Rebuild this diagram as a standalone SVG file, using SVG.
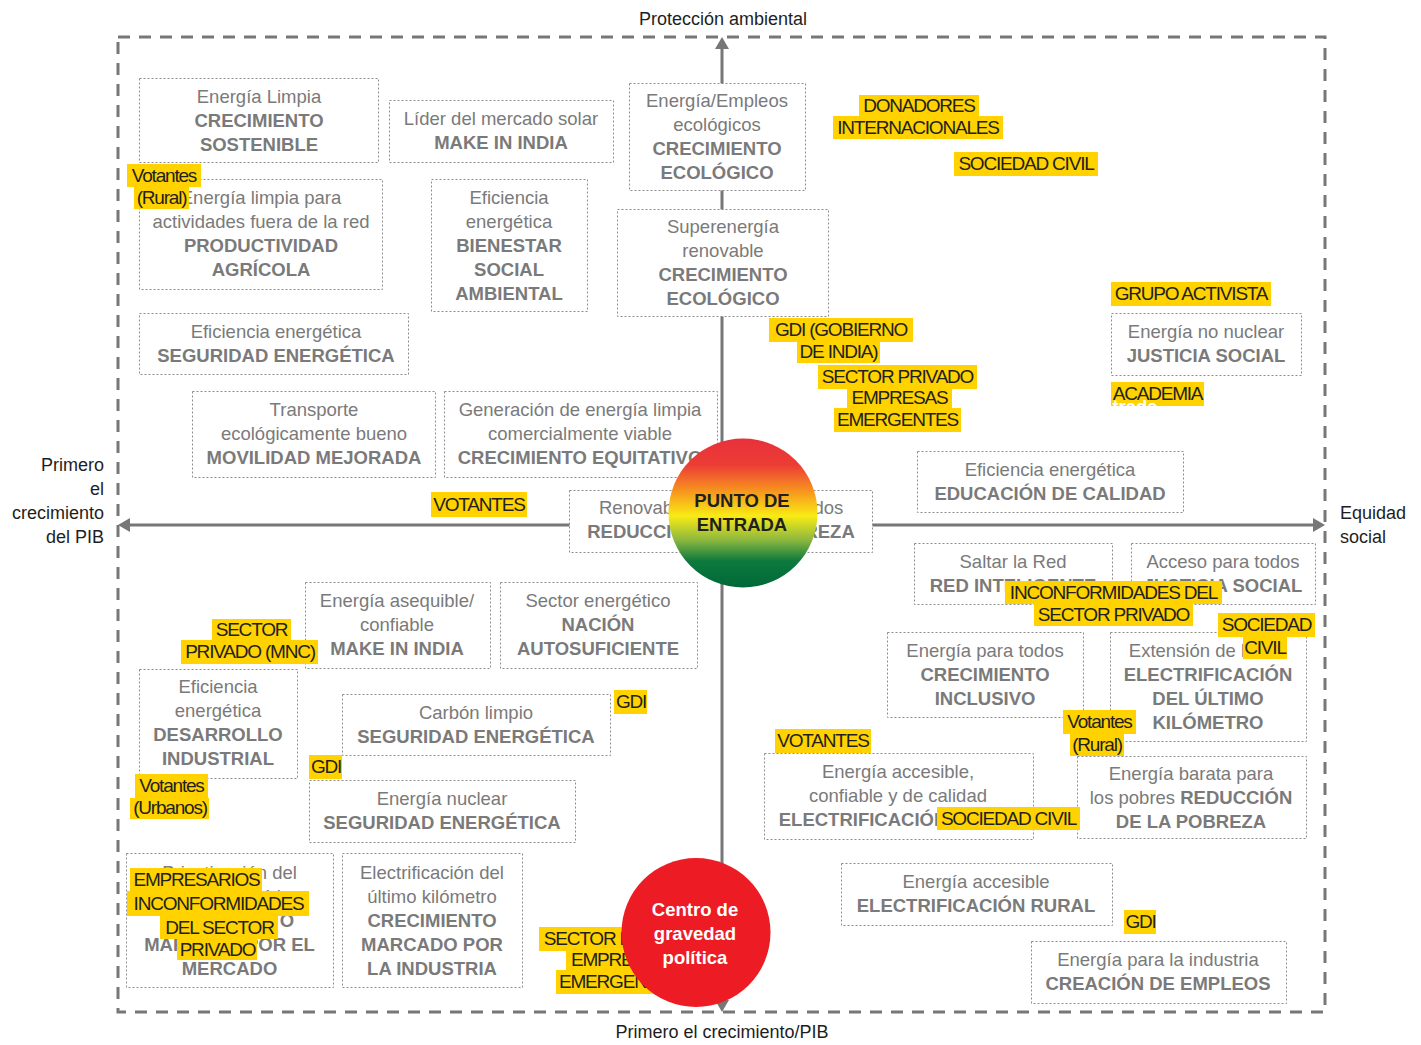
<svg xmlns="http://www.w3.org/2000/svg" width="1421" height="1045" viewBox="0 0 1421 1045">
<style>
.frame{fill:none;stroke:#777;stroke-width:3;stroke-dasharray:12 9}
.axis{fill:none;stroke:#777;stroke-width:3}
.box rect{fill:#fff;stroke:#8c8c8c;stroke-width:1;stroke-dasharray:2 2}
.t{font-family:"Liberation Sans",Arial,sans-serif;font-size:18.5px;fill:#7a7a7a;text-anchor:middle}
.b{font-weight:bold}
.ax{font-family:"Liberation Sans",Arial,sans-serif;font-size:18px;fill:#1e1e1e}
.lbl rect{fill:#FFD200}
.lbl text{font-family:"Liberation Sans",Arial,sans-serif;font-size:19px;letter-spacing:-1.2px;fill:#231f20;text-anchor:middle}
.ct{font-family:"Liberation Sans",Arial,sans-serif;font-size:18.5px;font-weight:bold;text-anchor:middle}
</style>
<defs>
<marker id="arr" markerUnits="userSpaceOnUse" markerWidth="12" markerHeight="14" refX="0" refY="7" orient="auto-start-reverse">
<path d="M0,0 L12,7 L0,14 z" fill="#777"/>
</marker>
<linearGradient id="grad" x1="0" y1="0" x2="0" y2="1">
<stop offset="0" stop-color="#E8313B"/>
<stop offset="0.18" stop-color="#EC3D35"/>
<stop offset="0.35" stop-color="#F7931E"/>
<stop offset="0.52" stop-color="#F9EB14"/>
<stop offset="0.68" stop-color="#8DB83F"/>
<stop offset="0.82" stop-color="#0E7A3D"/>
<stop offset="1" stop-color="#006837"/>
</linearGradient>
</defs>
<rect width="1421" height="1045" fill="#fff"/>
<rect class="frame" x="118" y="37" width="1207" height="975"/>

<g id="connectors">
<line class="axis" x1="722" y1="1000" x2="722" y2="49" marker-start="url(#arr)" marker-end="url(#arr)"/>
<line class="axis" x1="1313" y1="525" x2="130" y2="525" marker-start="url(#arr)" marker-end="url(#arr)"/>
</g>

<g id="axis-labels">
<text class="ax" x="723" y="25" text-anchor="middle">Protección ambiental</text>
<text class="ax" x="722" y="1038" text-anchor="middle">Primero el crecimiento/PIB</text>
<text class="ax" text-anchor="end"><tspan x="104" y="471">Primero</tspan><tspan x="104" y="495">el</tspan><tspan x="104" y="519">crecimiento</tspan><tspan x="104" y="543">del PIB</tspan></text>
<text class="ax"><tspan x="1340" y="519">Equidad</tspan><tspan x="1340" y="543">social</tspan></text>
</g>

<g id="box-crecimiento-sostenible" class="box">
<rect x="139.5" y="78.5" width="239" height="84"/>
<text class="t" x="259" y="103">Energía Limpia</text>
<text class="t b" x="259" y="127">CRECIMIENTO</text>
<text class="t b" x="259" y="151">SOSTENIBLE</text>
</g>
<g id="box-lider-solar" class="box">
<rect x="389.5" y="100.5" width="224" height="62"/>
<text class="t" x="501" y="125">Líder del mercado solar</text>
<text class="t b" x="501" y="149">MAKE IN INDIA</text>
</g>
<g id="box-productividad-agricola" class="box">
<rect x="139.5" y="179.5" width="243" height="110"/>
<text class="t" x="261" y="204">Energía limpia para</text>
<text class="t" x="261" y="228">actividades fuera de la red</text>
<text class="t b" x="261" y="252">PRODUCTIVIDAD</text>
<text class="t b" x="261" y="276">AGRÍCOLA</text>
</g>
<g id="box-bienestar" class="box">
<rect x="431.5" y="179.5" width="156" height="132"/>
<text class="t" x="509" y="204">Eficiencia</text>
<text class="t" x="509" y="228">energética</text>
<text class="t b" x="509" y="252">BIENESTAR</text>
<text class="t b" x="509" y="276">SOCIAL</text>
<text class="t b" x="509" y="300">AMBIENTAL</text>
</g>
<g id="box-empleos-ecologicos" class="box">
<rect x="629.5" y="83.5" width="176" height="107"/>
<text class="t" x="717" y="107">Energía/Empleos</text>
<text class="t" x="717" y="131">ecológicos</text>
<text class="t b" x="717" y="155">CRECIMIENTO</text>
<text class="t b" x="717" y="179">ECOLÓGICO</text>
</g>
<g id="box-superenergia" class="box">
<rect x="617.5" y="209.5" width="211" height="107"/>
<text class="t" x="723" y="233">Superenergía</text>
<text class="t" x="723" y="257">renovable</text>
<text class="t b" x="723" y="281">CRECIMIENTO</text>
<text class="t b" x="723" y="305">ECOLÓGICO</text>
</g>
<g id="box-seguridad-1" class="box">
<rect x="139.5" y="313.5" width="269" height="61"/>
<text class="t" x="276" y="338">Eficiencia energética</text>
<text class="t b" x="276" y="362">SEGURIDAD ENERGÉTICA</text>
</g>
<g id="box-movilidad" class="box">
<rect x="192.5" y="391.5" width="243" height="86"/>
<text class="t" x="314" y="416">Transporte</text>
<text class="t" x="314" y="440">ecológicamente bueno</text>
<text class="t b" x="314" y="464">MOVILIDAD MEJORADA</text>
</g>
<g id="box-crecimiento-equitativo" class="box">
<rect x="444.5" y="391.5" width="273" height="86"/>
<text class="t" x="580" y="416">Generación de energía limpia</text>
<text class="t" x="580" y="440">comercialmente viable</text>
<text class="t b" x="580" y="464">CRECIMIENTO EQUITATIVO</text>
</g>
<g id="box-renovables" class="box">
<rect x="569.5" y="490.5" width="303" height="62"/>
<text class="t" style="text-anchor:start" y="514"><tspan x="599">Renovables para </tspan><tspan x="798">todos</tspan></text>
<text class="t b" x="721" y="538">REDUCCIÓN DE LA POBREZA</text>
</g>
<g id="box-no-nuclear" class="box">
<rect x="1111.5" y="313.5" width="190" height="62"/>
<text class="t" x="1206" y="338">Energía no nuclear</text>
<text class="t b" x="1206" y="362">JUSTICIA SOCIAL</text>
</g>
<g id="box-educacion" class="box">
<rect x="917.5" y="451.5" width="266" height="61"/>
<text class="t" x="1050" y="476">Eficiencia energética</text>
<text class="t b" x="1050" y="500">EDUCACIÓN DE CALIDAD</text>
</g>
<g id="box-red-inteligente" class="box">
<rect x="914.5" y="543.5" width="198" height="61"/>
<text class="t" x="1013" y="568">Saltar la Red</text>
<text class="t b" x="1013" y="592">RED INTELIGENTE</text>
</g>
<g id="box-acceso-todos" class="box">
<rect x="1131.5" y="543.5" width="184" height="61"/>
<text class="t" x="1223" y="568">Acceso para todos</text>
<text class="t b" x="1223" y="592">JUSTICIA SOCIAL</text>
</g>
<g id="box-crecimiento-inclusivo" class="box">
<rect x="887.5" y="632.5" width="196" height="85"/>
<text class="t" x="985" y="657">Energía para todos</text>
<text class="t b" x="985" y="681">CRECIMIENTO</text>
<text class="t b" x="985" y="705">INCLUSIVO</text>
</g>
<g id="box-ultimo-kilometro" class="box">
<rect x="1110.5" y="632.5" width="196" height="109"/>
<text class="t" x="1208" y="657">Extensión de la red</text>
<text class="t b" x="1208" y="681">ELECTRIFICACIÓN</text>
<text class="t b" x="1208" y="705">DEL ÚLTIMO</text>
<text class="t b" x="1208" y="729">KILÓMETRO</text>
</g>
<g id="box-electrificacion-calidad" class="box">
<rect x="764.5" y="753.5" width="269" height="86"/>
<text class="t" x="898" y="778">Energía accesible,</text>
<text class="t" x="898" y="802">confiable y de calidad</text>
<text class="t b" x="898" y="826">ELECTRIFICACIÓN RURAL</text>
</g>
<g id="box-energia-barata" class="box">
<rect x="1077.5" y="756.5" width="229" height="82"/>
<text class="t" x="1191" y="780">Energía barata para</text>
<text class="t" x="1191" y="804">los pobres <tspan class="b">REDUCCIÓN</tspan></text>
<text class="t b" x="1191" y="828">DE LA POBREZA</text>
</g>
<g id="box-electrificacion-rural" class="box">
<rect x="841.5" y="863.5" width="271" height="62"/>
<text class="t" x="976" y="888">Energía accesible</text>
<text class="t b" x="976" y="912">ELECTRIFICACIÓN RURAL</text>
</g>
<g id="box-creacion-empleos" class="box">
<rect x="1031.5" y="941.5" width="255" height="62"/>
<text class="t" x="1158" y="966">Energía para la industria</text>
<text class="t b" x="1158" y="990">CREACIÓN DE EMPLEOS</text>
</g>
<g id="box-make-in-india-2" class="box">
<rect x="305.5" y="582.5" width="185" height="86"/>
<text class="t" x="397" y="607">Energía asequible/</text>
<text class="t" x="397" y="631">confiable</text>
<text class="t b" x="397" y="655">MAKE IN INDIA</text>
</g>
<g id="box-autosuficiente" class="box">
<rect x="500.5" y="582.5" width="197" height="86"/>
<text class="t" x="598" y="607">Sector energético</text>
<text class="t b" x="598" y="631">NACIÓN</text>
<text class="t b" x="598" y="655">AUTOSUFICIENTE</text>
</g>
<g id="box-desarrollo-industrial" class="box">
<rect x="139.5" y="669.5" width="158" height="109"/>
<text class="t" x="218" y="693">Eficiencia</text>
<text class="t" x="218" y="717">energética</text>
<text class="t b" x="218" y="741">DESARROLLO</text>
<text class="t b" x="218" y="765">INDUSTRIAL</text>
</g>
<g id="box-carbon-limpio" class="box">
<rect x="342.5" y="694.5" width="268" height="61"/>
<text class="t" x="476" y="719">Carbón limpio</text>
<text class="t b" x="476" y="743">SEGURIDAD ENERGÉTICA</text>
</g>
<g id="box-nuclear" class="box">
<rect x="309.5" y="780.5" width="266" height="62"/>
<text class="t" x="442" y="805">Energía nuclear</text>
<text class="t b" x="442" y="829">SEGURIDAD ENERGÉTICA</text>
</g>
<g id="box-privatizacion" class="box">
<rect x="126.5" y="853.5" width="207" height="134"/>
<text class="t" x="229.5" y="879">Privatización del</text>
<text class="t" x="229.5" y="903">sector energético</text>
<text class="t b" x="229.5" y="927">CRECIMIENTO</text>
<text class="t b" x="229.5" y="951">MARCADO POR EL</text>
<text class="t b" x="229.5" y="975">MERCADO</text>
</g>
<g id="box-ultimo-km-industria" class="box">
<rect x="342.5" y="853.5" width="180" height="134"/>
<text class="t" x="432" y="879">Electrificación del</text>
<text class="t" x="432" y="903">último kilómetro</text>
<text class="t b" x="432" y="927">CRECIMIENTO</text>
<text class="t b" x="432" y="951">MARCADO POR</text>
<text class="t b" x="432" y="975">LA INDUSTRIA</text>
</g>

<g id="punto-de-entrada">
<circle cx="743" cy="513" r="74.5" fill="url(#grad)"/>
<text class="ct" x="742" y="507" fill="#231f20">PUNTO DE</text>
<text class="ct" x="742" y="531" fill="#231f20">ENTRADA</text>
</g>

<g id="lbl-votantes-rural-1" class="lbl">
<rect x="127" y="164" width="74" height="23"/><rect x="134" y="187" width="55" height="22"/>
<text x="164" y="182">Votantes</text><text x="161.5" y="204">(Rural)</text>
</g>
<g id="lbl-votantes-1" class="lbl">
<rect x="431" y="492" width="96" height="25"/>
<text x="479" y="511">VOTANTES</text>
</g>
<g id="lbl-donadores" class="lbl">
<rect x="859" y="95" width="120" height="22"/><rect x="833" y="116" width="170" height="23"/>
<text x="919" y="112">DONADORES</text><text x="918" y="134">INTERNACIONALES</text>
</g>
<g id="lbl-sociedad-civil-1" class="lbl">
<rect x="954" y="152" width="144" height="24"/>
<text x="1026" y="170">SOCIEDAD CIVIL</text>
</g>
<g id="lbl-grupo-activista" class="lbl">
<rect x="1111" y="282" width="160" height="24"/>
<text x="1191" y="300">GRUPO ACTIVISTA</text>
</g>
<g id="lbl-academia" class="lbl">
<rect x="1111" y="382" width="93" height="24"/>
<text x="1157.5" y="400">ACADEMIA</text>
</g>
<text id="trada-fragment" x="1135" y="413" style="font-family:'Liberation Sans',Arial,sans-serif;font-size:18.5px;font-weight:bold;fill:#fff;text-anchor:middle">trada</text>
<g id="lbl-gdi-gobierno" class="lbl">
<rect x="769" y="318" width="144" height="24"/><rect x="797" y="342" width="83" height="21"/>
<text x="841" y="336">GDI (GOBIERNO</text><text x="838.5" y="358">DE INDIA)</text>
</g>
<g id="lbl-sector-privado-emergentes-1" class="lbl">
<rect x="818" y="365" width="159" height="24"/><rect x="847" y="389" width="105" height="20"/><rect x="834" y="408" width="127" height="24"/>
<text x="897.5" y="383">SECTOR PRIVADO</text><text x="899.5" y="404">EMPRESAS</text><text x="897.5" y="426">EMERGENTES</text>
</g>
<g id="lbl-inconformidades-1" class="lbl">
<rect x="1005" y="581" width="217" height="23"/><rect x="1034" y="604" width="159" height="22"/>
<text x="1113.5" y="599">INCONFORMIDADES DEL</text><text x="1113.5" y="621">SECTOR PRIVADO</text>
</g>
<g id="lbl-sociedad-civil-2" class="lbl">
<rect x="1218" y="613" width="97" height="24"/><rect x="1243" y="637" width="44" height="22"/>
<text x="1266.5" y="631">SOCIEDAD</text><text x="1265" y="654">CIVIL</text>
</g>
<g id="lbl-votantes-rural-2" class="lbl">
<rect x="1063" y="710" width="73" height="24"/><rect x="1070" y="734" width="54" height="22"/>
<text x="1099.5" y="728">Votantes</text><text x="1097" y="751">(Rural)</text>
</g>
<g id="lbl-votantes-2" class="lbl">
<rect x="775" y="729" width="96" height="24"/>
<text x="823" y="747">VOTANTES</text>
</g>
<g id="lbl-sociedad-civil-3" class="lbl">
<rect x="937" y="807" width="143" height="23"/>
<text x="1008.5" y="825">SOCIEDAD CIVIL</text>
</g>
<g id="lbl-gdi-1" class="lbl">
<rect x="614" y="690" width="33" height="24"/>
<text x="631" y="708">GDI</text>
</g>
<g id="lbl-sector-privado-mnc" class="lbl">
<rect x="212" y="619" width="79" height="21"/><rect x="181" y="640" width="137" height="24"/>
<text x="251.5" y="636">SECTOR</text><text x="250" y="658">PRIVADO (MNC)</text>
</g>
<g id="lbl-gdi-2" class="lbl">
<rect x="309" y="755" width="33" height="24"/>
<text x="326" y="773">GDI</text>
</g>
<g id="lbl-votantes-urbanos" class="lbl">
<rect x="135" y="774" width="73" height="24"/><rect x="130" y="798" width="79" height="21"/>
<text x="171.5" y="792">Votantes</text><text x="170" y="814">(Urbanos)</text>
</g>
<g id="lbl-empresarios-inconformidades" class="lbl">
<rect x="130" y="868" width="132" height="23"/><rect x="127" y="891" width="182" height="25"/><rect x="160" y="916" width="118" height="23"/><rect x="177" y="939" width="80" height="21"/>
<text x="196.5" y="886">EMPRESARIOS</text><text x="218.5" y="910">INCONFORMIDADES</text><text x="219.5" y="934">DEL SECTOR</text><text x="217.5" y="956">PRIVADO</text>
</g>
<g id="lbl-sector-privado-emergentes-2" class="lbl">
<rect x="539" y="927" width="160" height="24"/><rect x="566" y="951" width="105" height="20"/><rect x="556" y="970" width="126" height="24"/>
<text x="619.5" y="945">SECTOR PRIVADO</text><text x="619" y="966">EMPRESAS</text><text x="619.5" y="988">EMERGENTES</text>
</g>
<g id="lbl-gdi-3" class="lbl">
<rect x="1124" y="910" width="32" height="24"/>
<text x="1140.5" y="928">GDI</text>
</g>

<g id="centro-gravedad">
<circle cx="696" cy="932.5" r="74.5" fill="#ED1C24"/>
<text class="ct" x="695" y="916" fill="#fff">Centro de</text>
<text class="ct" x="695" y="940" fill="#fff">gravedad</text>
<text class="ct" x="695" y="964" fill="#fff">política</text>
</g>
</svg>
